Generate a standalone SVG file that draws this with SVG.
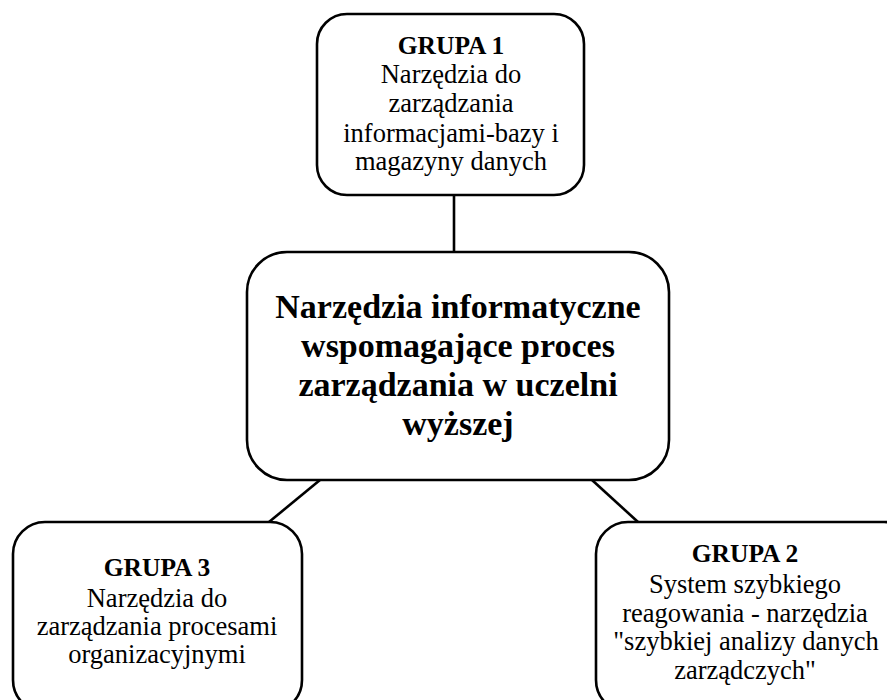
<svg xmlns="http://www.w3.org/2000/svg" width="887" height="700" viewBox="0 0 887 700">
<style>
.box{fill:#fff;stroke:#000;stroke-width:2.6}
.ln{stroke:#000;stroke-width:2.6;fill:none}
text{font-family:"Liberation Serif","DejaVu Serif",serif;fill:#000;text-anchor:middle}
.s{font-size:26.5px}
.h{font-size:25.5px;font-weight:bold}
.c{font-size:34px;font-weight:bold}
</style>
<rect width="887" height="700" fill="#fff"/>
<g id="connectors">
<line class="ln" x1="454" y1="195" x2="454" y2="253"/>
<line class="ln" x1="320" y1="480" x2="269" y2="522"/>
<line class="ln" x1="592" y1="480" x2="638" y2="522"/>
</g>
<g id="grupa1">
<rect class="box" x="317" y="14" width="267" height="181" rx="30"/>
<text class="h" x="451" y="54">GRUPA 1</text>
<text class="s" x="451" y="83">Narzędzia do</text>
<text class="s" x="451" y="112">zarządzania</text>
<text class="s" x="451" y="142">informacjami-bazy i</text>
<text class="s" x="451" y="170">magazyny danych</text>
</g>
<g id="center">
<rect class="box" x="247" y="252" width="422" height="228" rx="40"/>
<text class="c" x="458" y="318">Narzędzia informatyczne</text>
<text class="c" x="458" y="357">wspomagające proces</text>
<text class="c" x="458" y="396">zarządzania w uczelni</text>
<text class="c" x="458" y="435">wyższej</text>
</g>
<g id="grupa3">
<rect class="box" x="13" y="522" width="289" height="190" rx="32"/>
<text class="h" x="157" y="576">GRUPA 3</text>
<text class="s" x="157" y="607">Narzędzia do</text>
<text class="s" x="157" y="635">zarządzania procesami</text>
<text class="s" x="157" y="663">organizacyjnymi</text>
</g>
<g id="grupa2">
<rect class="box" x="596" y="522" width="320" height="190" rx="32"/>
<text class="h" x="745" y="562">GRUPA 2</text>
<text class="s" x="745" y="593">System szybkiego</text>
<text class="s" x="745" y="622">reagowania - narzędzia</text>
<text class="s" x="746" y="650">"szybkiej analizy danych</text>
<text class="s" x="745" y="679">zarządczych"</text>
</g>
</svg>
